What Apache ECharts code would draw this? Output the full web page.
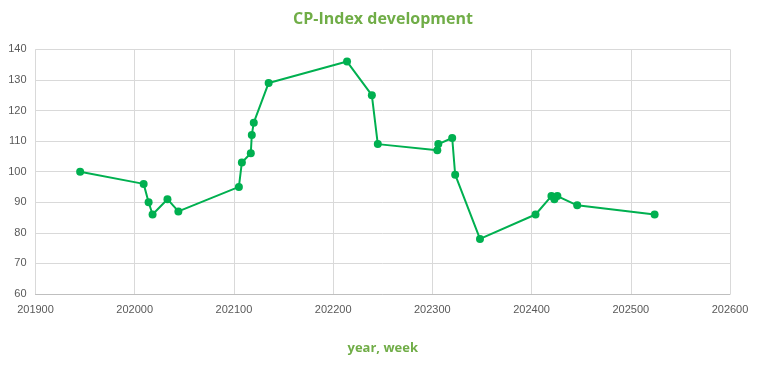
<!DOCTYPE html>
<html>
<head>
<meta charset="utf-8">
<script src="https://cdn.jsdelivr.net/npm/echarts@6/dist/echarts.min.js"></script>
<style>
html,body{margin:0;padding:0;background:#fff;}
#c{width:758px;height:375px;}
</style>
</head>
<body>
<div id="c"></div>
<script>
const weeks = [201945, 202009, 202014, 202018, 202033, 202044, 202105, 202108, 202117, 202118, 202120, 202135, 202214, 202239, 202245, 202305, 202306, 202320, 202323, 202348, 202404, 202420, 202423, 202426, 202446, 202524];
const cpIndex = [100, 96, 90, 86, 91, 87, 95, 103, 106, 112, 116, 129, 136, 125, 109, 107, 109, 111, 99, 78, 86, 92, 91, 92, 89, 86];
const titleText = 'CP-Index development';
const xAxisName = 'year, week';

const chart = echarts.init(document.getElementById('c'), null, {renderer: 'canvas'});
chart.setOption({
  animation: false,
  title: {
    text: titleText,
    left: 378, top: 6, textAlign: 'center',
    textStyle: {color: '#70AD47', fontSize: 16, fontWeight: 'bold', fontFamily: 'Open Sans'}
  },
  grid: {left: 35.5, right: 28, top: 49.3, bottom: 81, containLabel: false},
  xAxis: {
    type: 'value', min: 201900, max: 202600, interval: 100,
    name: xAxisName, nameLocation: 'middle', nameGap: 48,
    nameTextStyle: {color: '#70AD47', fontSize: 13, fontWeight: 'bold', fontFamily: 'Open Sans'},
    axisLine: {show: true, lineStyle: {color: '#BFBFBF', width: 1}},
    axisTick: {show: false},
    axisLabel: {color: '#595959', fontSize: 11, fontFamily: 'Liberation Sans', margin: 10, formatter: v => String(v)},
    splitLine: {show: true, lineStyle: {color: '#D9D9D9', width: 1}}
  },
  yAxis: {
    type: 'value', min: 60, max: 140, interval: 10,
    axisLine: {show: false},
    axisTick: {show: false},
    axisLabel: {color: '#595959', fontSize: 11, fontFamily: 'Liberation Sans', margin: 9},
    splitLine: {show: true, lineStyle: {color: '#D9D9D9', width: 1}}
  },
  series: [{
    type: 'line',
    data: weeks.map((w, i) => [w, cpIndex[i]]),
    symbol: 'circle', symbolSize: 8,
    lineStyle: {color: '#00B050', width: 2},
    itemStyle: {color: '#00B050'},
    showAllSymbol: true
  }]
});
</script>
</body>
</html>
